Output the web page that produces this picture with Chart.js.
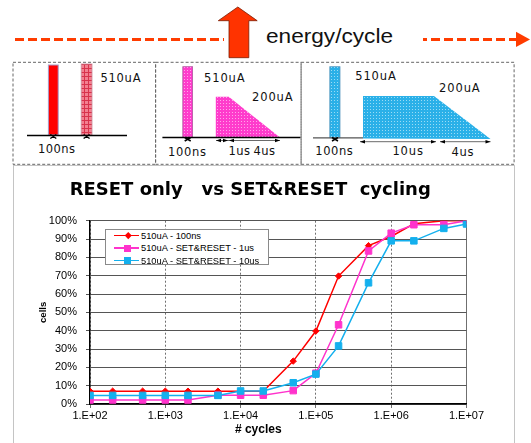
<!DOCTYPE html>
<html>
<head>
<meta charset="utf-8">
<script src="https://cdn.jsdelivr.net/npm/chart.js@4.4.1/dist/chart.umd.min.js"></script>
<style>
    html, body { margin: 0; padding: 0; background: #fff; }
    body { width: 531px; height: 443px; position: relative; overflow: hidden; font-family: "Liberation Sans", Arial, sans-serif; }
    #diagram { position: absolute; left: 0; top: 0; }
    #frame { position: absolute; left: 13px; top: 165px; width: 500px; height: 300px; border: 1px solid #c4c4c4; }
    #chartBox { position: absolute; left: 14px; top: 167px; }
    #legend {
        position: absolute; left: 105px; top: 229px; width: 164px; height: 36px;
        box-sizing: border-box; border: 1px solid #8a8a8a; background: #fff;
    }
    .leg-row { position: absolute; left: 0; width: 100%; height: 12px; }
    .leg-line { position: absolute; left: 8px; width: 25px; top: 5.3px; height: 1.5px; }
    .leg-mark { position: absolute; }
    .leg-text { position: absolute; left: 35px; top: 0; font-size: 9.3px; line-height: 12px; color: #000; white-space: nowrap; }
</style>
</head>
<body>

<svg id="diagram" width="531" height="170" xmlns="http://www.w3.org/2000/svg">
    <defs>
        <pattern id="hatchRed" width="4" height="4" patternUnits="userSpaceOnUse">
            <rect width="4" height="4" fill="#f28090"/>
            <rect width="4" height="1" fill="#d8334c"/>
            <rect width="1" height="4" fill="#d8334c"/>
        </pattern>
        <pattern id="dotPink" width="3" height="3" patternUnits="userSpaceOnUse">
            <rect width="3" height="3" fill="#ff3ccc"/>
            <rect x="1" y="1" width="1" height="1" fill="#ffa6ea"/>
        </pattern>
        <pattern id="dotBlue" width="3" height="3" patternUnits="userSpaceOnUse">
            <rect width="3" height="3" fill="#2ab0e8"/>
            <rect x="1" y="1" width="1" height="1" fill="#9adcf5"/>
        </pattern>
    </defs>

    <!-- energy/cycle arrow -->
    <line x1="15" y1="39.5" x2="224" y2="39.5" stroke="#ff3c00" stroke-width="3" stroke-dasharray="9 4"/>
    <line x1="423" y1="39.5" x2="517" y2="39.5" stroke="#ff3c00" stroke-width="3" stroke-dasharray="4 4 9 4 9 4 9 4 9 4 9 4 9 4 9 4"/>
    <polygon points="516,31.7 530,39.4 516,47" fill="#ff3c00"/>
    <polygon points="229,57.7 229,20.7 218.3,20.7 237.8,7 257.2,20.7 248.8,20.7 248.8,57.7" fill="#ff3300" stroke="#7a1a00" stroke-width="0.8"/>
    <text x="266" y="42.7" font-family="Liberation Sans" font-size="21" textLength="127" lengthAdjust="spacingAndGlyphs" fill="#111">energy/cycle</text>

    <!-- pulse boxes -->
    <g fill="none" stroke="#666" stroke-width="1" stroke-dasharray="3 2">
        <rect x="13" y="62.3" width="142.6" height="102"/>
        <rect x="155.6" y="62.3" width="145.5" height="102"/>
        <rect x="301.1" y="62.3" width="213" height="102"/>
    </g>

    <g font-family="DejaVu Sans" font-size="11.5" fill="#111" lengthAdjust="spacingAndGlyphs">
        <!-- RESET only -->
        <rect x="48.4" y="65" width="9.8" height="70" fill="#ff0000" stroke="#a79cc8" stroke-width="1"/>
        <rect x="81.2" y="64" width="10.8" height="71" fill="url(#hatchRed)" stroke="#c98a9a" stroke-width="0.8"/>
        <line x1="27" y1="135.5" x2="127" y2="135.5" stroke="#000" stroke-width="1.3"/>
        <path d="M50.3 134.5 L56.3 138.5 M56.3 134.5 L50.3 138.5 M83.6 134.5 L89.6 138.5 M89.6 134.5 L83.6 138.5" stroke="#000" stroke-width="1.5"/>
        <text x="100.5" y="82" textLength="40">510uA</text>
        <text x="37.9" y="152.5" textLength="37">100ns</text>

        <!-- SET&RESET 1us -->
        <rect x="182.8" y="66.7" width="9.8" height="70.6" fill="url(#dotPink)" stroke="#b05aa0" stroke-width="0.8"/>
        <polygon points="215.8,137.5 215.8,96.7 228.8,96.7 280,137.5" fill="url(#dotPink)"/>
        <line x1="162.4" y1="137.5" x2="300.4" y2="137.5" stroke="#000" stroke-width="1.3"/>
        <path d="M184.7 137.5 L190.7 141 M190.7 137.5 L184.7 141" stroke="#000" stroke-width="1.5"/>
        <line x1="216" y1="140.5" x2="280" y2="140.5" stroke="#444" stroke-width="0.8"/>
        <polygon points="216,140.5 221,138.8 221,142.2" fill="#000"/>
        <polygon points="228,140.5 223,138.8 223,142.2" fill="#000"/>
        <polygon points="229,140.5 234,138.8 234,142.2" fill="#000"/>
        <polygon points="280,140.5 275,138.8 275,142.2" fill="#000"/>
        <text x="204" y="82" textLength="40.6">510uA</text>
        <text x="252" y="101" textLength="40.6">200uA</text>
        <text x="168" y="155.5" textLength="38">100ns</text>
        <text x="228.5" y="154.5" textLength="21.5">1us</text>
        <text x="253.5" y="154.5" textLength="21.5">4us</text>

        <!-- SET&RESET 10us -->
        <rect x="329.8" y="66.7" width="10.2" height="71" fill="url(#dotBlue)" stroke="#5a9ac0" stroke-width="0.8"/>
        <polygon points="363,138.5 363,96 434,96 490.5,139" fill="url(#dotBlue)"/>
        <line x1="313" y1="137.8" x2="363" y2="137.8" stroke="#555" stroke-width="1.2"/>
        <path d="M332 137.5 L338 141 M338 137.5 L332 141" stroke="#000" stroke-width="1.5"/>
        <line x1="360" y1="141.7" x2="436" y2="141.7" stroke="#444" stroke-width="0.8"/>
        <line x1="440" y1="141.7" x2="490.5" y2="141.7" stroke="#444" stroke-width="0.8"/>
        <polygon points="360,141.7 365,140 365,143.4" fill="#000"/>
        <polygon points="436,141.7 431,140 431,143.4" fill="#000"/>
        <polygon points="440,141.7 445,140 445,143.4" fill="#000"/>
        <polygon points="490.5,141.7 485.5,140 485.5,143.4" fill="#000"/>
        <text x="355.2" y="80.3" textLength="40.6">510uA</text>
        <text x="439.1" y="91.6" textLength="40.6">200uA</text>
        <text x="315.3" y="155.3" textLength="37.5">100ns</text>
        <text x="392.4" y="154.6" textLength="30.5">10us</text>
        <text x="451.6" y="156" textLength="22">4us</text>
    </g>
</svg>

<div id="frame"></div>
<div id="chartBox"><canvas id="cyclingChart" width="499" height="276"></canvas></div>
<div id="legend"></div>

<script>
// Cycle counts (x) and % of cells (y)
const cycles = [1e2, 2e2, 5e2, 1e3, 2e3, 5e3, 1e4, 2e4, 5e4, 1e5, 2e5, 5e5, 1e6, 2e6, 5e6, 1e7];
const reset100ns = [7, 7, 7, 7, 7, 7, 7, 7, 23.4, 39.8, 69.8, 86.4, 91.4, 98.3, 100, 100];
const setReset1us = [2.2, 2.2, 2.2, 2.2, 2.2, 4.8, 4.8, 4.8, 7.3, 16.8, 43.2, 83.5, 93.2, 97.8, 97.8, 100];
const setReset10us = [4.7, 4.7, 4.7, 4.7, 4.7, 4.7, 7.1, 7.1, 11.6, 16.3, 31.7, 66.1, 89, 89, 95.8, 98.2];

const seriesNames = ['510uA - 100ns', '510uA - SET&RESET - 1us', '510uA - SET&RESET - 10us'];
const seriesColors = ['#ff0000', '#ff33cc', '#14b0ee'];

const xTickValues = [1e2, 1e3, 1e4, 1e5, 1e6, 1e7];
const xTickLabels = ['1.E+02', '1.E+03', '1.E+04', '1.E+05', '1.E+06', '1.E+07'];
const yTickLabels = ['0%', '10%', '20%', '30%', '40%', '50%', '60%', '70%', '80%', '90%', '100%'];

function toPoints(values) {
    return cycles.map((c, i) => ({ x: c, y: values[i] }));
}

const tickFont = { family: 'Liberation Sans', size: 11 };

new Chart(document.getElementById('cyclingChart'), {
    type: 'line',
    data: {
        datasets: [
            {
                label: seriesNames[0],
                data: toPoints(reset100ns),
                borderColor: seriesColors[0],
                backgroundColor: seriesColors[0],
                borderWidth: 1.5,
                pointStyle: 'rectRot',
                pointRadius: 3.2,
                pointBorderWidth: 1,
                order: 3
            },
            {
                label: seriesNames[1],
                data: toPoints(setReset1us),
                borderColor: seriesColors[1],
                backgroundColor: seriesColors[1],
                borderWidth: 1.5,
                pointStyle: 'rect',
                pointRadius: 4.6,
                pointBorderWidth: 1,
                order: 2
            },
            {
                label: seriesNames[2],
                data: toPoints(setReset10us),
                borderColor: seriesColors[2],
                backgroundColor: seriesColors[2],
                borderWidth: 1.5,
                pointStyle: 'rect',
                pointRadius: 4.6,
                pointBorderWidth: 1,
                order: 1
            }
        ]
    },
    options: {
        responsive: false,
        animation: false,
        layout: { padding: { left: 20, right: 46.5, top: 0, bottom: 3.8 } },
        plugins: {
            legend: { display: false },
            tooltip: { enabled: false },
            title: {
                display: true,
                text: 'RESET only   vs SET&RESET  cycling',
                color: '#000',
                font: { family: 'DejaVu Sans', size: 18, weight: 'bold' },
                padding: { top: 13, bottom: 19.1 }
            }
        },
        scales: {
            x: {
                type: 'logarithmic',
                min: 1e2,
                max: 1e7,
                afterBuildTicks: (axis) => {
                    axis.ticks = xTickValues.map(v => ({ value: v }));
                },
                afterFit: (axis) => { axis.height = 35.2; },
                ticks: {
                    autoSkip: false,
                    maxRotation: 0,
                    padding: 1,
                    color: '#000',
                    font: tickFont,
                    callback: (value, index) => xTickLabels[index]
                },
                grid: { color: '#6f6f6f', lineWidth: 1, tickLength: 4 },
                border: {
                    color: '#000',
                    width: 1.5,
                    dash: (ctx) => (ctx.index === xTickValues.length - 1 ? [] : [2, 2])
                },
                title: {
                    display: true,
                    text: '# cycles            ',
                    color: '#000',
                    font: { family: 'Liberation Sans', size: 12, weight: 'bold' },
                    padding: { top: 0, bottom: 2 }
                }
            },
            y: {
                min: 0,
                max: 100,
                afterFit: (axis) => { axis.width = 56; },
                ticks: {
                    stepSize: 10,
                    padding: 9,
                    color: '#000',
                    font: tickFont,
                    callback: (value, index) => yTickLabels[index]
                },
                grid: { color: '#555', lineWidth: 1, tickLength: 4 },
                border: { color: '#000', width: 1.5 },
                title: {
                    display: true,
                    text: 'cells',
                    color: '#000',
                    font: { family: 'Liberation Sans', size: 9.5, weight: 'bold' },
                    padding: { top: 4, bottom: 0 }
                }
            }
        }
    }
});

// Legend drawn as html over the plot area
const legend = document.getElementById('legend');
const markerStyles = ['diamond', 'square', 'square'];
const rowTops = [-0.5, 12, 24.5];
seriesNames.forEach((name, i) => {
    const row = document.createElement('div');
    row.className = 'leg-row';
    row.style.top = rowTops[i] + 'px';

    const line = document.createElement('div');
    line.className = 'leg-line';
    line.style.background = seriesColors[i];
    row.appendChild(line);

    const mark = document.createElement('div');
    mark.className = 'leg-mark';
    mark.style.background = seriesColors[i];
    if (markerStyles[i] === 'diamond') {
        mark.style.width = '4.5px';
        mark.style.height = '4.5px';
        mark.style.left = '19.5px';
        mark.style.top = '3.8px';
        mark.style.transform = 'rotate(45deg)';
    } else {
        mark.style.width = '7px';
        mark.style.height = '7px';
        mark.style.left = '18.2px';
        mark.style.top = '2.5px';
    }
    row.appendChild(mark);

    const text = document.createElement('span');
    text.className = 'leg-text';
    text.textContent = name;
    row.appendChild(text);

    legend.appendChild(row);
});
</script>
</body>
</html>
